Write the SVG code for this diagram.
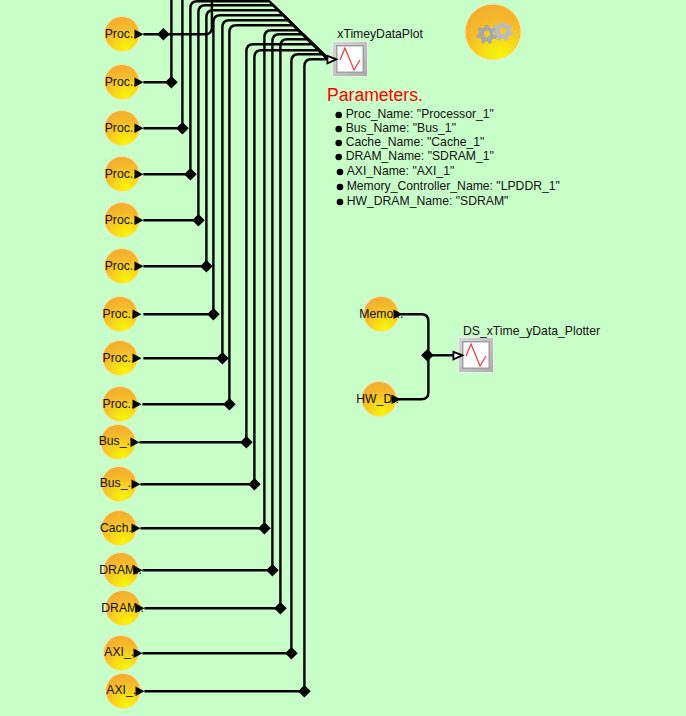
<svg xmlns="http://www.w3.org/2000/svg" xmlns:xlink="http://www.w3.org/1999/xlink" width="686" height="716" viewBox="0 0 686 716">
<style>
text{font-family:"Liberation Sans",Arial,sans-serif;fill:#111;font-size:12.200px}
.ball{fill:url(#ballG);stroke:#f8e4ac;stroke-width:1}
.port{fill:#000}
.w{fill:none;stroke:#000;stroke-width:2.400;stroke-linejoin:round}
.dia{fill:#000}
.bul{fill:#000}
.head{fill:#fff;stroke:#000;stroke-width:1.800}
</style>
<defs>
<radialGradient id="ballG" cx="0.62" cy="0.92" r="0.9">
<stop offset="0" stop-color="#f8f606"/><stop offset="0.35" stop-color="#f7da18"/><stop offset="0.7" stop-color="#f5ba2a"/><stop offset="1" stop-color="#f3ae2e"/>
</radialGradient>
<linearGradient id="bev" x1="0" y1="0" x2="1" y2="1"><stop offset="0" stop-color="#d8d8d8"/><stop offset="1" stop-color="#acacac"/></linearGradient>
<g id="plot">
<rect x="0" y="0" width="36" height="36" fill="#ececec"/>
<rect x="1" y="1" width="34" height="34" fill="url(#bev)"/>
<rect x="4" y="4" width="28" height="28" fill="#a0a0a0"/>
<rect x="5.500" y="5.500" width="25" height="25" fill="#fff"/>
<polyline points="8,19 13,7 22,29 28,19" fill="none" stroke="#ff3030" stroke-width="1.200"/>
</g>
<path id="d" d="M0-6.300 6.300 0 0 6.300-6.300 0Z"/>
<path id="gear" d="M-2-9H2L2.600-6.400 4.800-5.300 7-6.800 9.300-4.200 7.500-2.200 8 .4 10.400 1.700 9 5 6.400 4.400 4.600 6.300 5.200 8.800 2 10 .6 7.600H-1.600L-3 9.800-6.200 8.300-5.400 5.700-7.300 3.700-9.900 4.300-10.800 1-8.300-.3-8-2.800-9.900-4.700-7.600-7.300-5.300-5.700-2.800-6.600Z M0-3.200A3.200 3.200 0 1 0 .01-3.200Z" fill-rule="evenodd"/>
</defs>
<rect width="686" height="716" fill="#c8fec8"/>

<g id="xTimeyDataPlot"><use xlink:href="#plot" href="#plot" x="332" y="41"/><text x="337.300" y="37.500">xTimeyDataPlot</text></g>
<g id="DS_xTime_yData_Plotter"><use xlink:href="#plot" href="#plot" x="458" y="337"/><text x="463" y="334.500">DS_xTime_yData_Plotter</text></g>

<g id="connectors" transform="translate(.4 .3)">
<path class="w" d="M143 34H205Q211.500 34 211.500 27V-10"/>
<path class="w" d="M143 82H171V-10"/>
<path class="w" d="M143 128H182V-10"/>
<path class="w" d="M143 174H190V8Q190 1 197 1H269L328 59"/>
<path class="w" d="M143 220H198V12Q198 5 205 5H273L328 59"/>
<path class="w" d="M143 266H206V17Q206 10 213 10H278L328 59"/>
<path class="w" d="M143 314H213V22Q213 15 220 15H283L328 59"/>
<path class="w" d="M143 358H222V27Q222 20 229 20H288L328 59"/>
<path class="w" d="M142 404H229V32Q229 25 236 25H293L328 59"/>
<path class="w" d="M139 442H246V51Q246 44 253 44H312L328 59"/>
<path class="w" d="M140 484H254V57Q254 50 261 50H318L328 59"/>
<path class="w" d="M140 528H264V37Q264 30 271 30H298L328 59"/>
<path class="w" d="M142 570H272V41Q272 34 279 34H303L328 59"/>
<path class="w" d="M144 608H280V46Q280 39 287 39H308L328 59"/>
<path class="w" d="M142 653H291V61Q291 54 298 54H323L328 59"/>
<path class="w" d="M144 691H304V66Q304 59 311 59H328"/>
<polygon class="head" points="327,55.500 327,63 336,59"/>
<g class="dia">
<use xlink:href="#d" href="#d" x="163" y="34"/>
<use xlink:href="#d" href="#d" x="171" y="82"/>
<use xlink:href="#d" href="#d" x="182" y="128"/>
<use xlink:href="#d" href="#d" x="190" y="174"/>
<use xlink:href="#d" href="#d" x="198" y="220"/>
<use xlink:href="#d" href="#d" x="206" y="266"/>
<use xlink:href="#d" href="#d" x="213" y="314"/>
<use xlink:href="#d" href="#d" x="222" y="358"/>
<use xlink:href="#d" href="#d" x="229" y="404"/>
<use xlink:href="#d" href="#d" x="246" y="442"/>
<use xlink:href="#d" href="#d" x="254" y="484"/>
<use xlink:href="#d" href="#d" x="264" y="528"/>
<use xlink:href="#d" href="#d" x="272" y="570"/>
<use xlink:href="#d" href="#d" x="280" y="608"/>
<use xlink:href="#d" href="#d" x="291" y="653"/>
<use xlink:href="#d" href="#d" x="304" y="691"/>
<use xlink:href="#d" href="#d" x="427" y="355"/>
</g>
<path class="w" d="M400 314H421Q428 314 428 321V392Q428 399 421 399H397"/>
<path class="w" d="M427 355H454"/>
<polygon class="head" points="453,351.500 453,359 462,355"/>
</g>

<g id="proc1"><circle class="ball" cx="122" cy="34" r="17.500"/><text x="104.700" y="38">Proc..</text><polygon class="port" points="134.500,29.500 134.500,39 143.500,34.300"/></g>
<g id="proc2"><circle class="ball" cx="122" cy="82" r="17.500"/><text x="104.700" y="86">Proc..</text><polygon class="port" points="134.500,77.500 134.500,87 143.500,82.300"/></g>
<g id="proc3"><circle class="ball" cx="122" cy="128" r="17.500"/><text x="104.700" y="132">Proc..</text><polygon class="port" points="134.500,123.500 134.500,133 143.500,128.300"/></g>
<g id="proc4"><circle class="ball" cx="122" cy="174" r="17.500"/><text x="104.700" y="178">Proc..</text><polygon class="port" points="134.500,169.500 134.500,179 143.500,174.300"/></g>
<g id="proc5"><circle class="ball" cx="122" cy="220" r="17.500"/><text x="104.700" y="224">Proc..</text><polygon class="port" points="134.500,215.500 134.500,225 143.500,220.300"/></g>
<g id="proc6"><circle class="ball" cx="122" cy="266" r="17.500"/><text x="104.700" y="270">Proc..</text><polygon class="port" points="134.500,261.500 134.500,271 143.500,266.300"/></g>
<g id="proc7"><circle class="ball" cx="120" cy="314" r="17.500"/><text x="102.500" y="318">Proc..</text><polygon class="port" points="132.500,309.500 132.500,319 141.500,314.300"/></g>
<g id="proc8"><circle class="ball" cx="120" cy="358" r="17.500"/><text x="102.500" y="362">Proc..</text><polygon class="port" points="132.500,353.500 132.500,363 141.500,358.300"/></g>
<g id="proc9"><circle class="ball" cx="120" cy="404" r="17.500"/><text x="102.500" y="408">Proc..</text><polygon class="port" points="132.500,399.500 132.500,409 141.500,404.300"/></g>
<g id="bus1"><circle class="ball" cx="118" cy="442" r="17.500"/><text x="98.700" y="445">Bus_..</text><polygon class="port" points="130.500,437.500 130.500,447 139.500,442.300"/></g>
<g id="bus2"><circle class="ball" cx="119" cy="484" r="17.500"/><text x="99.700" y="487">Bus_..</text><polygon class="port" points="131.500,479.500 131.500,489 140.500,484.300"/></g>
<g id="cache"><circle class="ball" cx="119" cy="528" r="17.500"/><text x="100" y="532">Cach..</text><polygon class="port" points="131.500,523.500 131.500,533 140.500,528.300"/></g>
<g id="dram1"><circle class="ball" cx="121" cy="570" r="17.500"/><text x="99.300" y="574">DRAM..</text><polygon class="port" points="133.500,565.500 133.500,575 142.500,570.300"/></g>
<g id="dram2"><circle class="ball" cx="123" cy="608" r="17.500"/><text x="101.300" y="612">DRAM..</text><polygon class="port" points="135.500,603.500 135.500,613 144.500,608.300"/></g>
<g id="axi1"><circle class="ball" cx="121" cy="653" r="17.500"/><text x="104.300" y="656">AXI_..</text><polygon class="port" points="133.500,648.500 133.500,658 142.500,653.300"/></g>
<g id="axi2"><circle class="ball" cx="123" cy="691" r="17.500"/><text x="106.300" y="694">AXI_..</text><polygon class="port" points="135.500,686.500 135.500,696 144.500,691.300"/></g>
<g id="memory"><circle class="ball" cx="381" cy="314" r="17.500"/><text x="359.300" y="318">Memor..</text><polygon class="port" points="393.500,309.500 393.500,319 402.500,314.300"/></g>
<g id="hwdram"><circle class="ball" cx="379" cy="399" r="17.500"/><text x="356.300" y="403">HW_D..</text><polygon class="port" points="391.500,394.500 391.500,404 400.500,399.300"/></g>

<g id="solver">
<circle class="ball" cx="493" cy="32" r="28"/>
<use xlink:href="#gear" href="#gear" x="487" y="34" fill="#a8a8a8"/>
<use xlink:href="#gear" href="#gear" x="503" y="31" fill="#bcbcbc"/>
</g>

<g id="parameters">
<text x="327" y="101" style="font-size:17.600px;fill:#ff0000">Parameters.</text>
<circle class="bul" cx="338.700" cy="115" r="3.300"/><text x="345.700" y="118">Proc_Name: "Processor_1"</text>
<circle class="bul" cx="338.700" cy="129" r="3.300"/><text x="345.700" y="132">Bus_Name: "Bus_1"</text>
<circle class="bul" cx="338.700" cy="143" r="3.300"/><text x="345.700" y="146">Cache_Name: "Cache_1"</text>
<circle class="bul" cx="338.700" cy="157" r="3.300"/><text x="345.700" y="160">DRAM_Name: "SDRAM_1"</text>
<circle class="bul" cx="340" cy="172" r="3.300"/><text x="346.700" y="175">AXI_Name: "AXI_1"</text>
<circle class="bul" cx="340" cy="187" r="3.300"/><text x="346.700" y="190">Memory_Controller_Name: "LPDDR_1"</text>
<circle class="bul" cx="340" cy="202" r="3.300"/><text x="346.700" y="205">HW_DRAM_Name: "SDRAM"</text>
</g>
</svg>
